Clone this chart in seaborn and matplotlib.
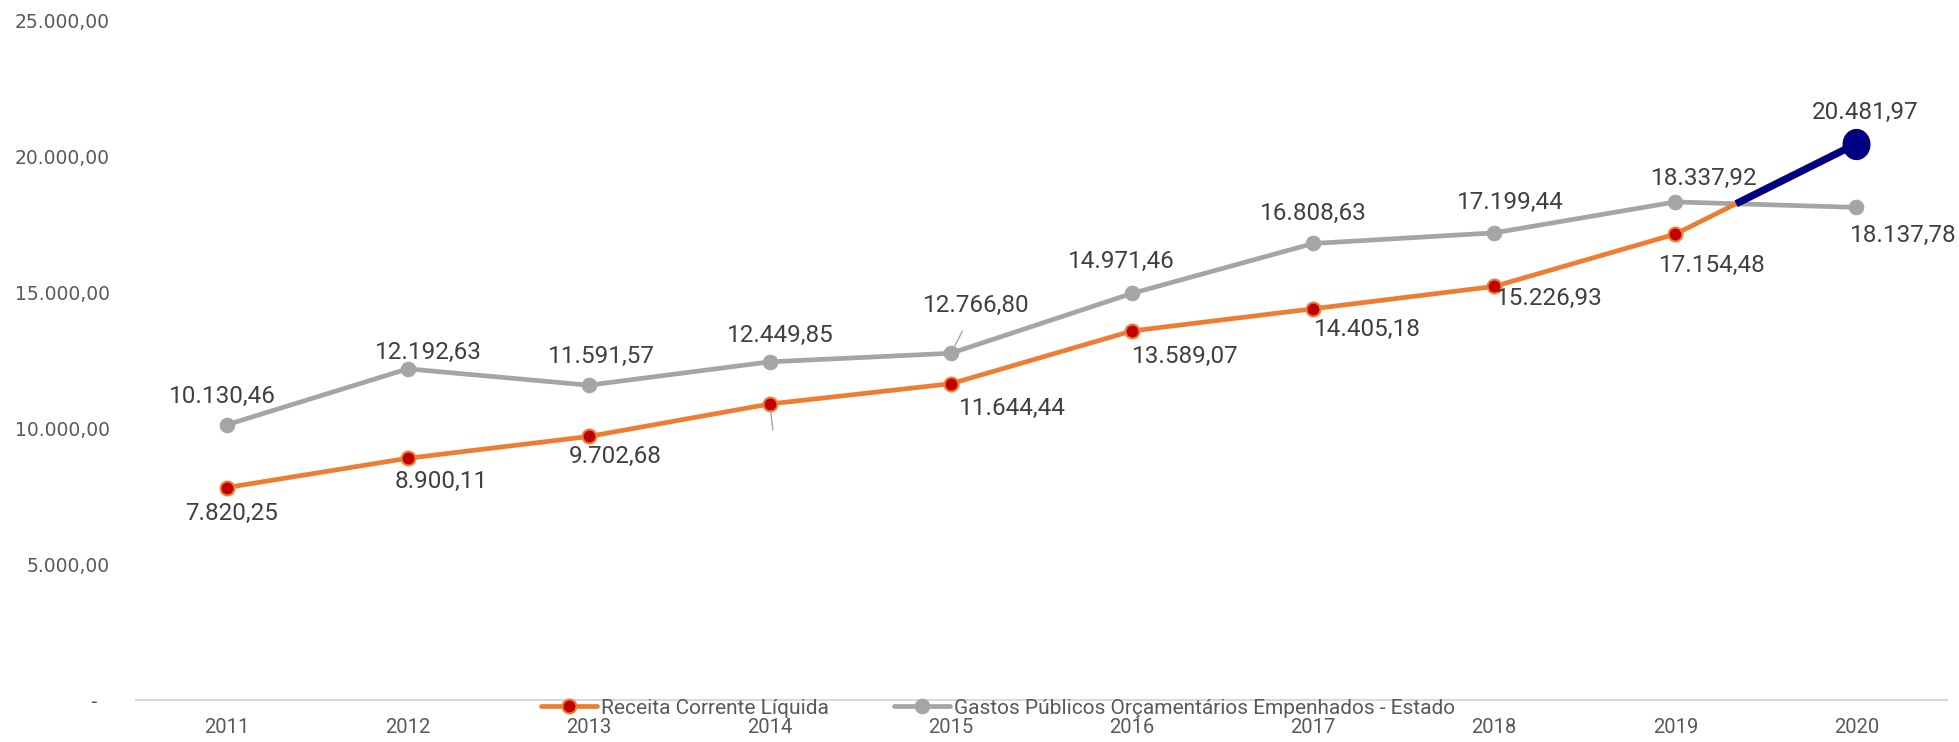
import matplotlib

matplotlib.use("Agg")
import matplotlib.pyplot as plt
import numpy as np
import pandas as pd
import seaborn as sns

# Data
years = [2011, 2012, 2013, 2014, 2015, 2016, 2017, 2018, 2019, 2020]
receita = [7820.25, 8900.11, 9702.68, 10900.00, 11644.44, 13589.07, 14405.18, 15226.93, 17154.48, 20481.97]
gastos = [10130.46, 12192.63, 11591.57, 12449.85, 12766.80, 14971.46, 16808.63, 17199.44, 18337.92, 18137.78]
receita_name = "Receita Corrente Líquida"
gastos_name = "Gastos Públicos Orçamentários Empenhados - Estado"
y_ticks = [0, 5000, 10000, 15000, 20000, 25000]

# label offsets in pixels (dx right, dy down), None = label hidden
receita_offsets = [(5, 26), (34, 23), (27, 20), None, (61, 25), (53, 26), (54, 21), (55, 12), (37, 31), (9, -31)]
gastos_offsets = [(-4, -28), (21, -16), (13, -29), (10, -26), (25, -48), (-11, -32), (0, -30), (16, -30), (29, -23), (47, 28)]
gastos_leaders = [4, 5]

ORANGE = "#ED7D31"
GRAY = "#A5A5A5"
RED = "#C00000"
NAVY = "#000080"
LABEL_COLOR = "#404040"
TICK_COLOR = "#595959"


def fmt_br(v):
    s = f"{v:,.2f}"
    return s.replace(",", "X").replace(".", ",").replace("X", ".")


sns.set_theme(style="white")
plt.rcParams["font.family"] = ["Roboto", "DejaVu Sans"]

df = pd.DataFrame({"Ano": years, "Receita": receita, "Gastos": gastos})

fig = plt.figure(figsize=(19.59, 7.42), dpi=100)
ax = fig.add_axes([136 / 1959, 1 - 700 / 742, (1947 - 136) / 1959, (700 - 21) / 742])

sns.lineplot(
    data=df, x="Ano", y="Gastos", ax=ax, color=GRAY, linewidth=3.4,
    marker="o", markersize=10.5, markerfacecolor=GRAY, markeredgecolor=GRAY,
    label=gastos_name, zorder=3,
)
sns.lineplot(
    data=df, x="Ano", y="Receita", ax=ax, color=ORANGE, linewidth=3.4,
    marker="o", markersize=10, markerfacecolor=RED, markeredgecolor=ORANGE,
    markeredgewidth=1.5, label=receita_name, zorder=4,
)

# highlighted last segment: from where Receita crosses Gastos to 2020
r0, r1 = receita[-2], receita[-1]
g0, g1 = gastos[-2], gastos[-1]
t = (g0 - r0) / ((r1 - r0) - (g1 - g0))
x_cross = years[-2] + t * (years[-1] - years[-2])
y_cross = r0 + t * (r1 - r0)
ax.plot([x_cross, years[-1]], [y_cross, r1], color=NAVY, linewidth=5.3,
        solid_capstyle="butt", zorder=5)
theta = np.linspace(0, 2 * np.pi, 60)
ellipse = np.column_stack([0.89 * np.cos(theta), np.sin(theta)])
ax.plot([years[-1]], [r1], linestyle="none", marker=ellipse, markersize=21.5,
        color=NAVY, zorder=6)

# data labels
for i, (x, v) in enumerate(zip(years, gastos)):
    dx, dy = gastos_offsets[i]
    arrow = None
    if i in gastos_leaders:
        arrow = dict(arrowstyle="-", color="#A6A6A6", lw=1.0, shrinkA=9, shrinkB=6)
    ax.annotate(fmt_br(v), xy=(x, v), xytext=(dx, -dy), textcoords="offset pixels",
                ha="center", va="center", fontsize=17.5, color=LABEL_COLOR,
                arrowprops=arrow, zorder=7)
for i, (x, v) in enumerate(zip(years, receita)):
    off = receita_offsets[i]
    if off is None:
        # hidden label, only its leader line remains
        ax.annotate("", xy=(x, v), xytext=(3, -26), textcoords="offset pixels",
                    arrowprops=dict(arrowstyle="-", color="#A6A6A6", lw=1.0,
                                    shrinkA=0, shrinkB=5), zorder=7)
        continue
    dx, dy = off
    ax.annotate(fmt_br(v), xy=(x, v), xytext=(dx, -dy), textcoords="offset pixels",
                ha="center", va="center", fontsize=17.5, color=LABEL_COLOR, zorder=7)

ax.set_xlim(years[0] - 0.5, years[-1] + 0.5)
ax.set_ylim(0, 25000)
ax.set_xticks(years)
ax.set_xticklabels([str(y) for y in years], fontsize=14.5, color=TICK_COLOR)
ax.set_yticks(y_ticks)
ax.set_yticklabels([fmt_br(v) if v else "-  " for v in y_ticks],
                   fontsize=13.5, color=TICK_COLOR, family="DejaVu Sans")
ax.tick_params(axis="x", length=0, pad=13)
ax.tick_params(axis="y", length=0, pad=19)
ax.set_xlabel("")
ax.set_ylabel("")
ax.grid(False)
for side in ["top", "right", "left"]:
    ax.spines[side].set_visible(False)
ax.spines["bottom"].set_color("#D9D9D9")
ax.spines["bottom"].set_linewidth(1.5)

handles, labels = ax.get_legend_handles_labels()
order = [labels.index(receita_name), labels.index(gastos_name)]
leg = ax.legend(
    [handles[k] for k in order], [labels[k] for k in order],
    loc="center", bbox_to_anchor=(998 / 1959, 1 - 708 / 742),
    bbox_transform=fig.transFigure, ncol=2, frameon=False, fontsize=15,
    handlelength=2.7, handletextpad=0.2, columnspacing=3.1, borderpad=0,
)
for txt in leg.get_texts():
    txt.set_color(TICK_COLOR)

fig.savefig("out.png", dpi=100, facecolor="white")
